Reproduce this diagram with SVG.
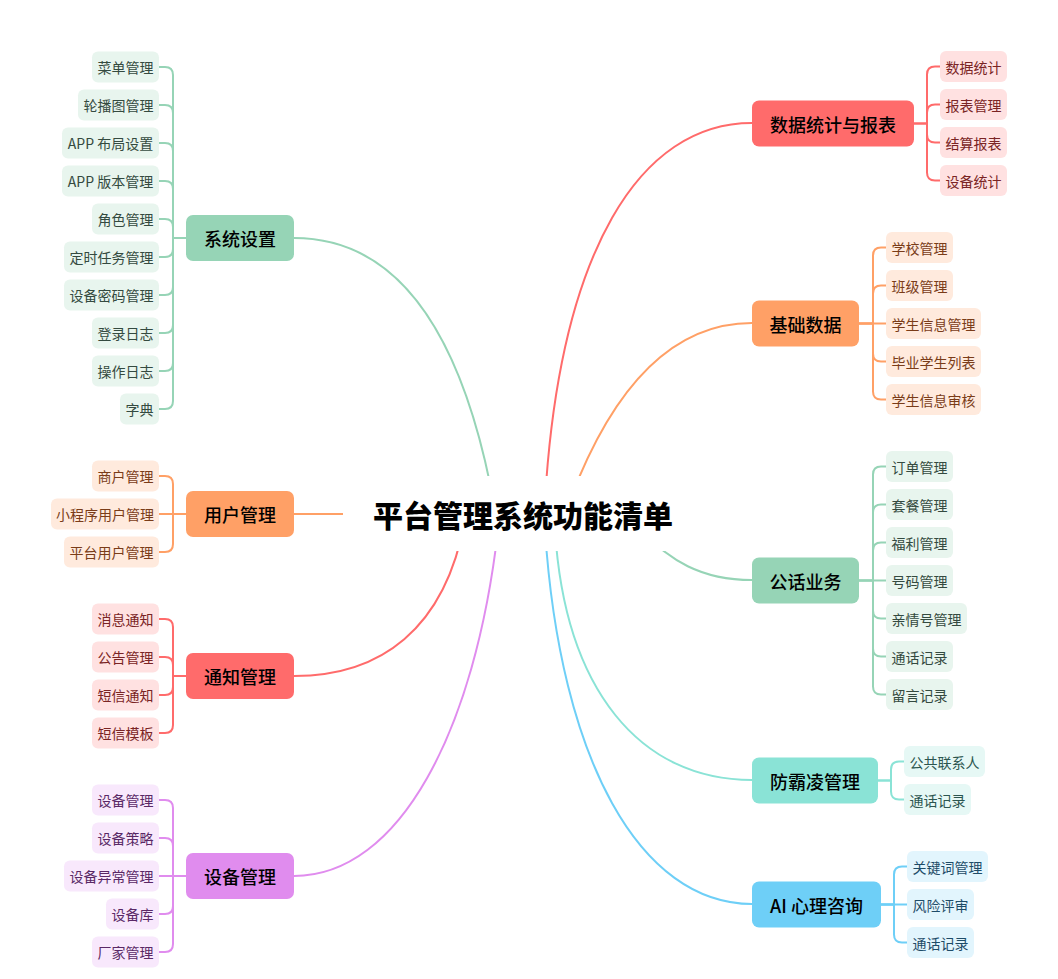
<svg xmlns="http://www.w3.org/2000/svg" width="1058" height="979" viewBox="0 0 1058 979">
<style>
text{font-family:"Noto Sans CJK SC","Noto Sans",sans-serif;dominant-baseline:central;text-anchor:middle}
.leaf text{font-size:14px}
.main text{font-size:18px;font-weight:500;fill:#000}
.root text{font-size:30px;font-weight:900;fill:#000}
.c{fill:none;stroke-width:2;stroke-linecap:round}
.g .m{fill:#96d4b6}.g .l{fill:#e8f5ee}.g text.t{fill:#344a40}
.o .m{fill:#ffa066}.o .l{fill:#ffeadd}.o text.t{fill:#7a3c18}
.r .m{fill:#ff6b6b}.r .l{fill:#ffe1e1}.r text.t{fill:#7a2424}
.p .m{fill:#e08cee}.p .l{fill:#f8e8fc}.p text.t{fill:#5a2866}
.t2 .m{fill:#8ae3d6}.t2 .l{fill:#e6f8f5}.t2 text.t{fill:#2c5650}
.b .m{fill:#6ecff7}.b .l{fill:#e2f5fd}.b text.t{fill:#1e4c68}
.sg{stroke:#96d4b6}.so{stroke:#ffa066}.sr{stroke:#ff6b6b}.sp{stroke:#e08cee}.st{stroke:#8ae3d6}.sb{stroke:#6ecff7}
</style>
<rect width="1058" height="979" fill="#fff"/>
<g id="connectors">
<!-- main branches -->
<path class="c sg" d="M294,238 Q455,238 500,540"/>
<path class="c so" d="M294,514 H350"/>
<path class="c sr" d="M294,676 C380,676 445,630 465,520"/>
<path class="c sp" d="M294,876 C400,876 475,730 498,530"/>
<path class="c sr" d="M752,123 C640,123 560,250 545,500"/>
<path class="c so" d="M752,323 Q637,323 570,500"/>
<path class="c sg" d="M752,580 C700,580 670,560 640,530"/>
<path class="c st" d="M752,780 C640,780 565,690 555,530"/>
<path class="c sb" d="M752,904 C640,904 560,760 545,530"/>
<!-- 系统设置 leaves -->
<g class="c sg">
<path d="M186,238 H173 V75 Q173,67 165,67 H159"/>
<path d="M173,113 Q173,105 165,105 H159"/>
<path d="M173,151 Q173,143 165,143 H159"/>
<path d="M173,189 Q173,181 165,181 H159"/>
<path d="M173,227 Q173,219 165,219 H159"/>
<path d="M186,238 H173 V401 Q173,409 165,409 H159"/>
<path d="M173,249 Q173,257 165,257 H159"/>
<path d="M173,287 Q173,295 165,295 H159"/>
<path d="M173,325 Q173,333 165,333 H159"/>
<path d="M173,363 Q173,371 165,371 H159"/>
</g>
<!-- 用户管理 leaves -->
<g class="c so">
<path d="M186,514 H159"/>
<path d="M186,514 H173 V484 Q173,476 165,476 H159"/>
<path d="M186,514 H173 V544 Q173,552 165,552 H159"/>
</g>
<!-- 通知管理 leaves -->
<g class="c sr">
<path d="M186,676 H173 V627 Q173,619 165,619 H159"/>
<path d="M173,665 Q173,657 165,657 H159"/>
<path d="M186,676 H173 V725 Q173,733 165,733 H159"/>
<path d="M173,687 Q173,695 165,695 H159"/>
</g>
<!-- 设备管理 leaves -->
<g class="c sp">
<path d="M186,876 H159"/>
<path d="M186,876 H173 V808 Q173,800 165,800 H159"/>
<path d="M173,846 Q173,838 165,838 H159"/>
<path d="M186,876 H173 V944 Q173,952 165,952 H159"/>
<path d="M173,906 Q173,914 165,914 H159"/>
</g>
<!-- 数据统计与报表 leaves -->
<g class="c sr">
<path d="M914,123.5 H927 V74.5 Q927,66.5 935,66.5 H940"/>
<path d="M927,112.5 Q927,104.5 935,104.5 H940"/>
<path d="M914,123.5 H927 V172.5 Q927,180.5 935,180.5 H940"/>
<path d="M927,134.5 Q927,142.5 935,142.5 H940"/>
</g>
<!-- 基础数据 leaves -->
<g class="c so">
<path d="M859,323.5 H886"/>
<path d="M859,323.5 H873 V255.5 Q873,247.5 881,247.5 H886"/>
<path d="M873,293.5 Q873,285.5 881,285.5 H886"/>
<path d="M859,323.5 H873 V391.5 Q873,399.5 881,399.5 H886"/>
<path d="M873,353.5 Q873,361.5 881,361.5 H886"/>
</g>
<!-- 公话业务 leaves -->
<g class="c sg">
<path d="M859,580.5 H886"/>
<path d="M859,580.5 H873 V474.5 Q873,466.5 881,466.5 H886"/>
<path d="M873,512.5 Q873,504.5 881,504.5 H886"/>
<path d="M873,550.5 Q873,542.5 881,542.5 H886"/>
<path d="M859,580.5 H873 V686.5 Q873,694.5 881,694.5 H886"/>
<path d="M873,610.5 Q873,618.5 881,618.5 H886"/>
<path d="M873,648.5 Q873,656.5 881,656.5 H886"/>
</g>
<!-- 防霸凌管理 leaves -->
<g class="c st">
<path d="M878,780.5 H891 V769.5 Q891,761.5 899,761.5 H904"/>
<path d="M878,780.5 H891 V791.5 Q891,799.5 899,799.5 H904"/>
</g>
<!-- AI 心理咨询 leaves -->
<g class="c sb">
<path d="M881,904.5 H907"/>
<path d="M881,904.5 H894 V874.5 Q894,866.5 902,866.5 H907"/>
<path d="M881,904.5 H894 V934.5 Q894,942.5 902,942.5 H907"/>
</g>
</g>

<g id="root" class="root">
<rect x="343" y="476" width="360" height="75" fill="#fff"/>
<text x="523" y="514">平台管理系统功能清单</text>
</g>

<!-- 系统设置 -->
<g id="n-xitong" class="g">
<g class="main"><rect class="m" x="186" y="215" width="108" height="46" rx="7"/><text x="240" y="238">系统设置</text></g>
<g class="leaf">
<rect class="l" x="92" y="51.5" width="67" height="31" rx="6"/><text class="t" x="125.5" y="67">菜单管理</text>
<rect class="l" x="78" y="89.5" width="81" height="31" rx="6"/><text class="t" x="118.5" y="105">轮播图管理</text>
<rect class="l" x="62" y="127.5" width="97" height="31" rx="6"/><text class="t" x="110.5" y="143">APP 布局设置</text>
<rect class="l" x="62" y="165.5" width="97" height="31" rx="6"/><text class="t" x="110.5" y="181">APP 版本管理</text>
<rect class="l" x="92" y="203.5" width="67" height="31" rx="6"/><text class="t" x="125.5" y="219">角色管理</text>
<rect class="l" x="64" y="241.5" width="95" height="31" rx="6"/><text class="t" x="111.5" y="257">定时任务管理</text>
<rect class="l" x="64" y="279.5" width="95" height="31" rx="6"/><text class="t" x="111.5" y="295">设备密码管理</text>
<rect class="l" x="92" y="317.5" width="67" height="31" rx="6"/><text class="t" x="125.5" y="333">登录日志</text>
<rect class="l" x="92" y="355.5" width="67" height="31" rx="6"/><text class="t" x="125.5" y="371">操作日志</text>
<rect class="l" x="120" y="393.5" width="39" height="31" rx="6"/><text class="t" x="139.5" y="409">字典</text>
</g>
</g>

<!-- 用户管理 -->
<g id="n-yonghu" class="o">
<g class="main"><rect class="m" x="186" y="491" width="108" height="46" rx="7"/><text x="240" y="514">用户管理</text></g>
<g class="leaf">
<rect class="l" x="92" y="460.5" width="67" height="31" rx="6"/><text class="t" x="125.5" y="476">商户管理</text>
<rect class="l" x="51" y="498.5" width="108" height="31" rx="6"/><text class="t" x="105" y="514">小程序用户管理</text>
<rect class="l" x="64" y="536.5" width="95" height="31" rx="6"/><text class="t" x="111.5" y="552">平台用户管理</text>
</g>
</g>

<!-- 通知管理 -->
<g id="n-tongzhi" class="r">
<g class="main"><rect class="m" x="186" y="653" width="108" height="46" rx="7"/><text x="240" y="676">通知管理</text></g>
<g class="leaf">
<rect class="l" x="92" y="603.5" width="67" height="31" rx="6"/><text class="t" x="125.5" y="619">消息通知</text>
<rect class="l" x="92" y="641.5" width="67" height="31" rx="6"/><text class="t" x="125.5" y="657">公告管理</text>
<rect class="l" x="92" y="679.5" width="67" height="31" rx="6"/><text class="t" x="125.5" y="695">短信通知</text>
<rect class="l" x="92" y="717.5" width="67" height="31" rx="6"/><text class="t" x="125.5" y="733">短信模板</text>
</g>
</g>

<!-- 设备管理 -->
<g id="n-shebei" class="p">
<g class="main"><rect class="m" x="186" y="853" width="108" height="46" rx="7"/><text x="240" y="876">设备管理</text></g>
<g class="leaf">
<rect class="l" x="92" y="784.5" width="67" height="31" rx="6"/><text class="t" x="125.5" y="800">设备管理</text>
<rect class="l" x="92" y="822.5" width="67" height="31" rx="6"/><text class="t" x="125.5" y="838">设备策略</text>
<rect class="l" x="64" y="860.5" width="95" height="31" rx="6"/><text class="t" x="111.5" y="876">设备异常管理</text>
<rect class="l" x="106" y="898.5" width="53" height="31" rx="6"/><text class="t" x="132.5" y="914">设备库</text>
<rect class="l" x="92" y="936.5" width="67" height="31" rx="6"/><text class="t" x="125.5" y="952">厂家管理</text>
</g>
</g>

<!-- 数据统计与报表 -->
<g id="n-shuju" class="r">
<g class="main"><rect class="m" x="752" y="100.5" width="162" height="46" rx="7"/><text x="833" y="123.5">数据统计与报表</text></g>
<g class="leaf">
<rect class="l" x="940" y="51" width="67" height="31" rx="6"/><text class="t" x="973.5" y="66.5">数据统计</text>
<rect class="l" x="940" y="89" width="67" height="31" rx="6"/><text class="t" x="973.5" y="104.5">报表管理</text>
<rect class="l" x="940" y="127" width="67" height="31" rx="6"/><text class="t" x="973.5" y="142.5">结算报表</text>
<rect class="l" x="940" y="165" width="67" height="31" rx="6"/><text class="t" x="973.5" y="180.5">设备统计</text>
</g>
</g>

<!-- 基础数据 -->
<g id="n-jichu" class="o">
<g class="main"><rect class="m" x="752" y="300.5" width="107" height="46" rx="7"/><text x="805.5" y="323.5">基础数据</text></g>
<g class="leaf">
<rect class="l" x="886" y="232" width="67" height="31" rx="6"/><text class="t" x="919.5" y="247.5">学校管理</text>
<rect class="l" x="886" y="270" width="67" height="31" rx="6"/><text class="t" x="919.5" y="285.5">班级管理</text>
<rect class="l" x="886" y="308" width="95" height="31" rx="6"/><text class="t" x="933.5" y="323.5">学生信息管理</text>
<rect class="l" x="886" y="346" width="95" height="31" rx="6"/><text class="t" x="933.5" y="361.5">毕业学生列表</text>
<rect class="l" x="886" y="384" width="95" height="31" rx="6"/><text class="t" x="933.5" y="399.5">学生信息审核</text>
</g>
</g>

<!-- 公话业务 -->
<g id="n-gonghua" class="g">
<g class="main"><rect class="m" x="752" y="557.5" width="107" height="46" rx="7"/><text x="805.5" y="580.5">公话业务</text></g>
<g class="leaf">
<rect class="l" x="886" y="451" width="67" height="31" rx="6"/><text class="t" x="919.5" y="466.5">订单管理</text>
<rect class="l" x="886" y="489" width="67" height="31" rx="6"/><text class="t" x="919.5" y="504.5">套餐管理</text>
<rect class="l" x="886" y="527" width="67" height="31" rx="6"/><text class="t" x="919.5" y="542.5">福利管理</text>
<rect class="l" x="886" y="565" width="67" height="31" rx="6"/><text class="t" x="919.5" y="580.5">号码管理</text>
<rect class="l" x="886" y="603" width="81" height="31" rx="6"/><text class="t" x="926.5" y="618.5">亲情号管理</text>
<rect class="l" x="886" y="641" width="67" height="31" rx="6"/><text class="t" x="919.5" y="656.5">通话记录</text>
<rect class="l" x="886" y="679" width="67" height="31" rx="6"/><text class="t" x="919.5" y="694.5">留言记录</text>
</g>
</g>

<!-- 防霸凌管理 -->
<g id="n-fangbaling" class="t2">
<g class="main"><rect class="m" x="752" y="757.5" width="126" height="46" rx="7"/><text x="815" y="780.5">防霸凌管理</text></g>
<g class="leaf">
<rect class="l" x="904" y="746" width="81" height="31" rx="6"/><text class="t" x="944.5" y="761.5">公共联系人</text>
<rect class="l" x="904" y="784" width="67" height="31" rx="6"/><text class="t" x="937.5" y="799.5">通话记录</text>
</g>
</g>

<!-- AI 心理咨询 -->
<g id="n-ai" class="b">
<g class="main"><rect class="m" x="752" y="881.5" width="129" height="46" rx="7"/><text x="816.5" y="904.5">AI 心理咨询</text></g>
<g class="leaf">
<rect class="l" x="907" y="851" width="81" height="31" rx="6"/><text class="t" x="947.5" y="866.5">关键词管理</text>
<rect class="l" x="907" y="889" width="67" height="31" rx="6"/><text class="t" x="940.5" y="904.5">风险评审</text>
<rect class="l" x="907" y="927" width="67" height="31" rx="6"/><text class="t" x="940.5" y="942.5">通话记录</text>
</g>
</g>
</svg>
